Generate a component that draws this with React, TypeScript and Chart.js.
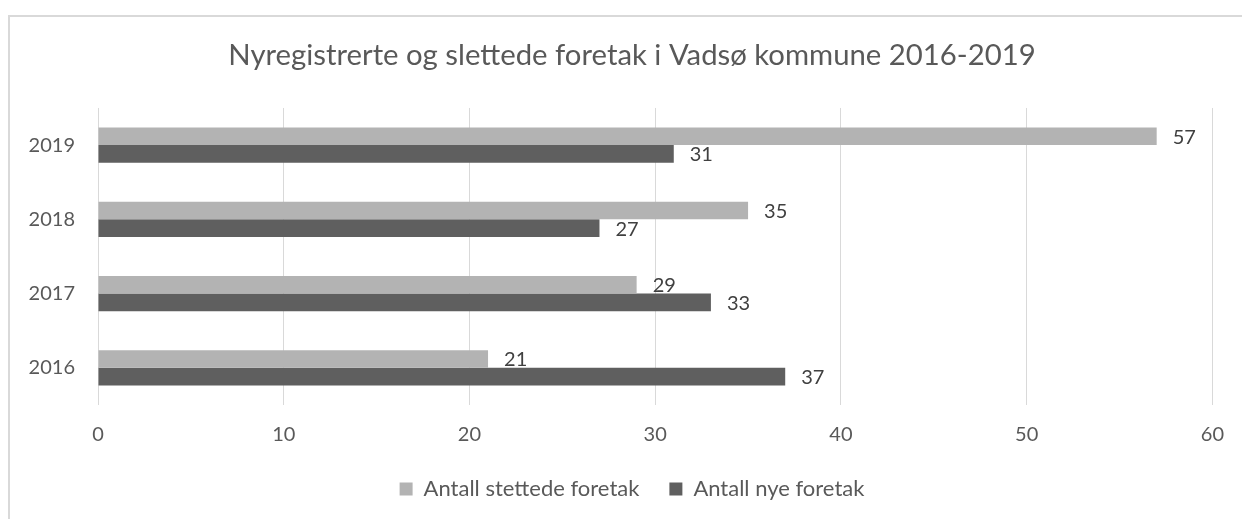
import React, { useEffect, useRef } from "react";
import { Chart, registerables } from "chart.js";

Chart.register(...registerables);

const chartTitle = "Nyregistrerte og slettede foretak i Vadsø kommune 2016-2019";
const categories = ["2019", "2018", "2017", "2016"];
const seriesNames = ["Antall stettede foretak", "Antall nye foretak"];
const slettedeValues = [57, 35, 29, 21];
const nyeValues = [31, 27, 33, 37];
const xTickValues = [0, 10, 20, 30, 40, 50, 60];

const FONT = "Lato";
const TEXT = "#595959";

const valueLabels = {
  id: "valueLabels",
  afterDatasetsDraw(chart: any) {
    const ctx = chart.ctx;
    ctx.save();
    ctx.font = `20px ${FONT}`;
    ctx.fillStyle = "#404040";
    ctx.textAlign = "left";
    ctx.textBaseline = "middle";
    chart.data.datasets.forEach((ds: any, i: number) => {
      const meta = chart.getDatasetMeta(i);
      meta.data.forEach((el: any, j: number) => {
        ctx.fillText(String(ds.data[j]), el.x + 16, el.y + 1);
      });
    });
    ctx.restore();
  },
};

export default function App() {
  const ref = useRef<HTMLCanvasElement | null>(null);

  useEffect(() => {
    if (!ref.current) return;
    const chart = new Chart(ref.current, {
      type: "bar",
      data: {
        labels: categories,
        datasets: [
          {
            label: seriesNames[0],
            data: slettedeValues,
            backgroundColor: "#b3b3b3",
            borderWidth: 0,
            barPercentage: 1,
            categoryPercentage: 0.477,
          },
          {
            label: seriesNames[1],
            data: nyeValues,
            backgroundColor: "#5f5f5f",
            borderWidth: 0,
            barPercentage: 1,
            categoryPercentage: 0.477,
          },
        ],
      },
      options: {
        indexAxis: "y",
        animation: false,
        responsive: false,
        maintainAspectRatio: false,
        layout: { padding: { left: 14, right: 0, top: 0, bottom: 9 } },
        plugins: {
          title: {
            display: true,
            text: chartTitle,
            color: TEXT,
            font: { family: FONT, size: 29.3, weight: "normal" },
            padding: { top: 30.4, bottom: 34.4 },
          },
          legend: {
            position: "bottom",
            labels: {
              color: TEXT,
              font: { family: FONT, size: 22 },
              boxWidth: 13,
              boxHeight: 13,
              padding: 30,
            },
          },
          tooltip: { enabled: false },
        },
        scales: {
          x: {
            min: 0,
            max: 60,
            afterBuildTicks: (s: any) => {
              s.ticks = xTickValues.map((v) => ({ value: v }));
            },
            ticks: {
              color: TEXT,
              font: { family: FONT, size: 20 },
              padding: 18,
            },
            grid: { color: "#d9d9d9", lineWidth: 1, drawTicks: false },
            border: { display: false },
            afterFit: (s: any) => {
              s.height = 43;
            },
          },
          y: {
            position: "left",
            ticks: {
              color: TEXT,
              font: { family: FONT, size: 20 },
              padding: 23,
            },
            grid: { display: false, drawTicks: false },
            border: { display: false },
            afterFit: (s: any) => {
              s.width = 76;
            },
          },
          yRightSpace: {
            type: "linear",
            position: "right",
            display: true,
            ticks: { display: false },
            grid: { display: false, drawTicks: false },
            border: { display: false },
            afterFit: (s: any) => {
              s.width = 29;
            },
          },
        },
      } as any,
      plugins: [valueLabels],
    });
    return () => chart.destroy();
  }, []);

  return (
    <div
      style={{
        position: "fixed",
        left: 0,
        top: 0,
        width: 1242,
        height: 519,
        overflow: "hidden",
        background: "#ffffff",
      }}
    >
      <div
        style={{
          position: "absolute",
          left: 8,
          top: 15,
          width: 1300,
          height: 600,
          borderLeft: "2px solid #d9d9d9",
          borderTop: "2px solid #d9d9d9",
          boxSizing: "border-box",
        }}
      />
      <canvas
        ref={ref}
        width={1234}
        height={511}
        style={{ position: "absolute", left: 8, top: 8, width: 1234, height: 511 }}
      />
    </div>
  );
}
